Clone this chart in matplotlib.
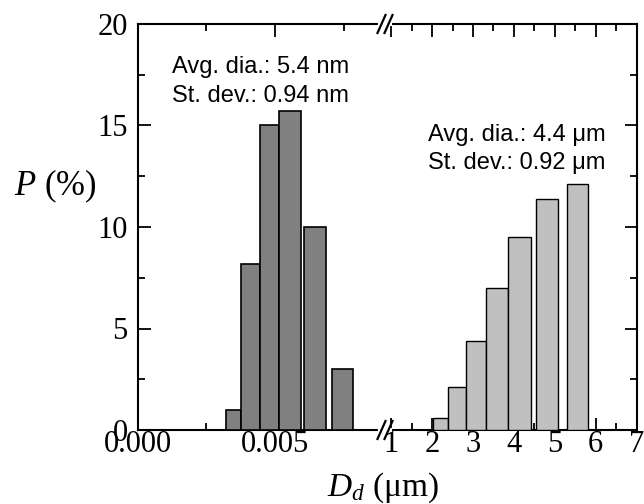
import matplotlib
matplotlib.use("Agg")
import matplotlib.pyplot as plt
from matplotlib.lines import Line2D
from matplotlib.transforms import Affine2D

plt.rcParams["font.family"] = "Liberation Serif"
plt.rcParams["mathtext.fontset"] = "custom"
plt.rcParams["mathtext.rm"] = "Liberation Serif"
plt.rcParams["mathtext.it"] = "Liberation Serif:italic"

# Nanometre-scale droplet population (diameters in µm)
nano_bin_lo = [0.00321, 0.00377, 0.00444, 0.00516, 0.00607, 0.00709]
nano_bin_hi = [0.00377, 0.00444, 0.00516, 0.00595, 0.00684, 0.00783]
nano_pct = [1.0, 8.2, 15.0, 15.7, 10.0, 3.0]

# Micrometre-scale droplet population (diameters in µm)
micro_bin_lo = [2.02, 2.38, 2.82, 3.31, 3.86, 4.53, 5.29]
micro_bin_hi = [2.38, 2.82, 3.31, 3.86, 4.42, 5.07, 5.81]
micro_pct = [0.6, 2.1, 4.4, 7.0, 9.5, 11.4, 12.1]

nano_ticks = [0.0, 0.005]
nano_ticklabels = ["0.000", "0.005"]
micro_ticks = [1, 2, 3, 4, 5, 6, 7]
y_ticks = [0, 5, 10, 15, 20]

W, H = 644, 504
fig = plt.figure(figsize=(W / 100, H / 100), dpi=100)

x0, xb, x1 = 137.5, 385.0, 636.5
ytop, ybot = 24.0, 430.0
ax1 = fig.add_axes([x0 / W, 1 - ybot / H, (xb - x0) / W, (ybot - ytop) / H])
ax2 = fig.add_axes([xb / W, 1 - ybot / H, (x1 - xb) / W, (ybot - ytop) / H])

ax1.bar(nano_bin_lo, nano_pct,
        width=[h - l for l, h in zip(nano_bin_lo, nano_bin_hi)],
        align="edge", color="#808080", edgecolor="black", linewidth=1.2, zorder=3)
ax2.bar(micro_bin_lo, micro_pct,
        width=[h - l for l, h in zip(micro_bin_lo, micro_bin_hi)],
        align="edge", color="#c0c0c0", edgecolor="black", linewidth=1.0, zorder=3)

ax1.set_xlim(0, 0.009)
ax2.set_xlim(0.845, 7.0)
for ax in (ax1, ax2):
    ax.set_ylim(0, 20)
    ax.set_yticks(y_ticks)
    ax.set_yticks([2.5, 7.5, 12.5, 17.5], minor=True)
    for s in ax.spines.values():
        s.set_linewidth(1.5)
    ax.tick_params(which="major", direction="in", length=9, width=1.3,
                   labelsize=22, top=True)
    ax.tick_params(which="minor", direction="in", length=5, width=1.3, top=True)

ax1.set_xticks(nano_ticks)
ax1.set_xticklabels(nano_ticklabels)
ax1.set_xticks([0.0025, 0.0075], minor=True)
ax1.spines["right"].set_visible(False)
ax1.tick_params(which="both", right=False)
ax1.tick_params(axis="x", pad=0)
ax1.tick_params(axis="y", pad=7)

ax2.set_xticks(micro_ticks)
ax2.set_xticks([1.5, 2.5, 3.5, 4.5, 5.5, 6.5], minor=True)
ax2.spines["left"].set_visible(False)
ax2.tick_params(which="both", left=False, labelleft=False, right=True)
ax2.tick_params(axis="x", pad=0)

# axis-break marks
pix = Affine2D().scale(1, -1).translate(0, H)
for yb in (ytop, ybot):
    fig.add_artist(Line2D([xb - 5, xb + 5], [yb, yb], color="white", lw=3,
                          transform=pix))
    for dx in (-3.5, 3.5):
        fig.add_artist(Line2D([xb + dx - 4, xb + dx + 4], [yb + 9, yb - 9],
                              color="black", lw=1.6, transform=pix))

# annotations
sans = "Liberation Sans"
fs = 17
fig.text(172 / W, 1 - 72.7 / H, "Avg. dia.: 5.4 nm", family=sans, size=fs, va="baseline")
fig.text(172 / W, 1 - 101.7 / H, "St. dev.: 0.94 nm", family=sans, size=fs, va="baseline")
fig.text(428 / W, 1 - 140.5 / H, "Avg. dia.: 4.4 μm", family=sans, size=fs, va="baseline")
fig.text(428 / W, 1 - 169.3 / H, "St. dev.: 0.92 μm", family=sans, size=fs, va="baseline")

fig.text(14 / W, 1 - 186 / H, "$P$ (%)", size=25, va="center", ha="left")
fig.text(383 / W, 1 - 488 / H, "$D_d$ (μm)", size=24, va="center", ha="center")

fig.savefig("out.png", dpi=100)
